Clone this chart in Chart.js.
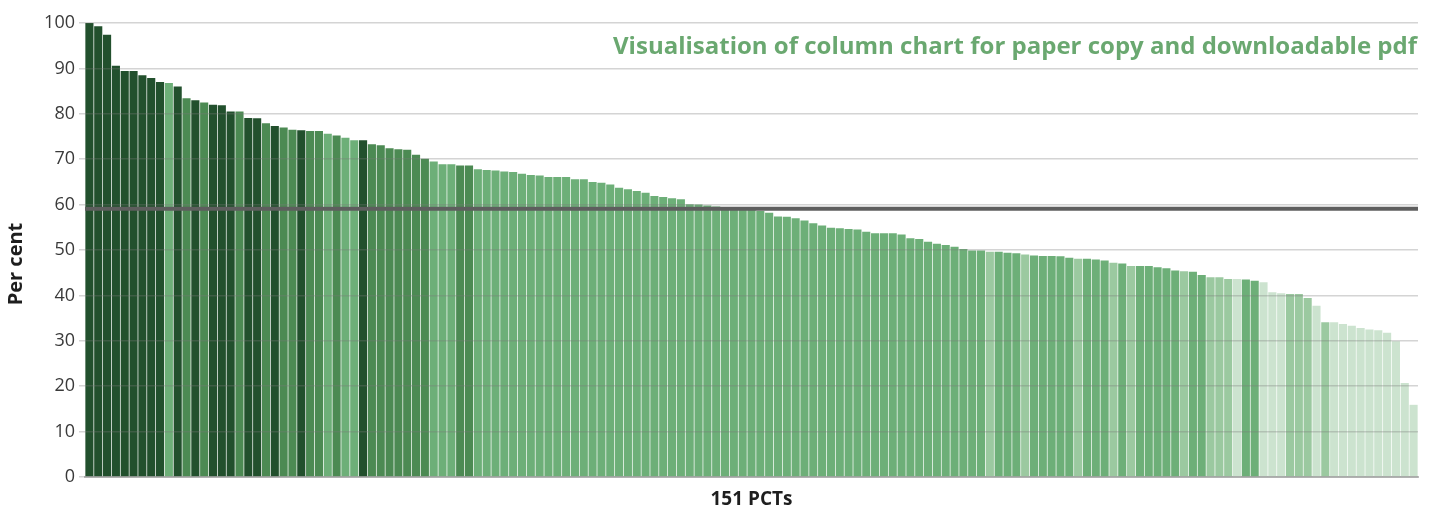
<!DOCTYPE html>
<html>
<head>
<meta charset="utf-8">
<script src="https://cdn.jsdelivr.net/npm/chart.js@4"></script>
<style>
  html, body { margin: 0; padding: 0; background: #ffffff; }
  #wrap { width: 1437px; height: 508px; }
</style>
</head>
<body>
<div id="wrap"><canvas id="c" width="1437" height="508"></canvas></div>
<script>
// ---- data ----
const pctValues = [
  100, 99.3, 97.4, 90.6, 89.4, 89.4, 88.5, 87.9, 87.0, 86.8,
  86.0, 83.4, 83.0, 82.5, 82.0, 81.9, 80.5, 80.5, 79.1, 79.0,
  77.9, 77.3, 77.0, 76.5, 76.4, 76.2, 76.2, 75.6, 75.2, 74.7,
  74.2, 74.2, 73.3, 73.1, 72.4, 72.2, 72.1, 71.0, 70.1, 69.5,
  68.9, 68.9, 68.6, 68.6, 67.8, 67.6, 67.5, 67.3, 67.2, 66.8,
  66.5, 66.4, 66.1, 66.1, 66.1, 65.6, 65.6, 65.0, 64.8, 64.4,
  63.7, 63.4, 63.0, 62.6, 61.9, 61.7, 61.4, 61.2, 60.1, 60.0,
  59.8, 59.6, 59.4, 59.2, 59.0, 58.8, 58.6, 58.2, 57.4, 57.3,
  57.0, 56.5, 55.9, 55.4, 54.9, 54.8, 54.6, 54.5, 54.0, 53.7,
  53.7, 53.7, 53.4, 52.6, 52.4, 51.8, 51.4, 51.1, 50.7, 50.2,
  49.9, 49.9, 49.6, 49.6, 49.4, 49.3, 49.0, 48.8, 48.7, 48.7,
  48.6, 48.3, 48.1, 48.1, 47.9, 47.7, 47.2, 47.0, 46.5, 46.5,
  46.5, 46.2, 46.0, 45.5, 45.3, 45.2, 44.5, 44.0, 44.0, 43.6,
  43.6, 43.5, 43.2, 42.9, 40.7, 40.5, 40.3, 40.3, 39.4, 37.7,
  34.1, 34.1, 33.7, 33.3, 32.8, 32.5, 32.3, 31.8, 29.9, 20.7,
  15.9
];

// colour band of each PCT (1 = darkest ... 5 = lightest)
const colourBands = [
  1, 1, 1, 1, 1, 1, 1, 1, 1, 3,
  1, 2, 1, 2, 1, 1, 1, 2, 1, 1,
  2, 1, 2, 2, 1, 2, 2, 3, 2, 3,
  3, 1, 2, 2, 2, 2, 2, 2, 2, 3,
  3, 3, 2, 2, 3, 3, 3, 3, 3, 3,
  3, 3, 3, 3, 3, 3, 3, 3, 3, 3,
  3, 3, 3, 3, 3, 3, 3, 3, 3, 3,
  3, 3, 3, 3, 3, 3, 3, 3, 3, 3,
  3, 3, 3, 3, 3, 3, 3, 3, 3, 3,
  3, 3, 3, 3, 3, 3, 3, 3, 3, 3,
  3, 3, 4, 3, 3, 3, 4, 3, 3, 3,
  3, 3, 4, 3, 3, 3, 4, 3, 4, 3,
  3, 3, 3, 3, 4, 3, 3, 4, 4, 4,
  5, 3, 3, 5, 5, 5, 4, 4, 4, 5,
  4, 5, 5, 5, 5, 5, 5, 5, 5, 5,
  5
];

const yTickValues = [0, 10, 20, 30, 40, 50, 60, 70, 80, 90, 100];
const averageValue = 59.1;

const chartTitle = 'Visualisation of column chart for paper copy and downloadable pdf';
const yAxisLabel = 'Per cent';
const xAxisLabel = '151 PCTs';
const categories = pctValues.map((v, i) => 'PCT ' + (i + 1));

// ---- styles ----
const bandColours = { 1: '#22502d', 2: '#4c8a53', 3: '#6daf78', 4: '#9bc9a0', 5: '#cce3cf' };
const FONT = '"Open Sans", "Noto Sans", sans-serif';

const overlayPlugin = {
  id: 'overlay',
  afterDraw(chart) {
    const { ctx, chartArea, scales } = chart;
    const yy = scales.y.getPixelForValue(averageValue);
    ctx.save();
    // average line
    ctx.strokeStyle = '#5e5e5e';
    ctx.lineWidth = 4;
    ctx.beginPath();
    ctx.moveTo(chartArea.left, yy);
    ctx.lineTo(chartArea.right, yy);
    ctx.stroke();
    // in-chart title
    ctx.fillStyle = '#6aa870';
    ctx.font = 'bold 24px ' + FONT;
    ctx.textAlign = 'right';
    ctx.textBaseline = 'alphabetic';
    ctx.fillText(chartTitle, chartArea.right - 1, chartArea.top + 31);
    // y axis label
    ctx.translate(16, (chartArea.top + chartArea.bottom) / 2 + 14);
    ctx.rotate(-Math.PI / 2);
    ctx.fillStyle = '#1e1e1e';
    ctx.font = 'bold 20px ' + FONT;
    ctx.textAlign = 'center';
    ctx.textBaseline = 'middle';
    ctx.fillText(yAxisLabel, 0, 0);
    ctx.restore();
  }
};

new Chart(document.getElementById('c'), {
  type: 'bar',
  data: {
    labels: categories,
    datasets: [{
      data: pctValues,
      backgroundColor: colourBands.map(b => bandColours[b]),
      borderWidth: 0,
      categoryPercentage: 1.0,
      barPercentage: 0.92
    }]
  },
  options: {
    responsive: false,
    animation: false,
    events: [],
    layout: { padding: { left: 0, right: 19, top: 23, bottom: 0 } },
    plugins: { legend: { display: false }, tooltip: { enabled: false } },
    scales: {
      x: {
        grid: { display: false },
        border: { display: true, color: '#bdbdbd', width: 2 },
        ticks: { display: false },
        title: {
          display: true, text: xAxisLabel, color: '#1e1e1e',
          font: { family: FONT, size: 19, weight: 'bold' }, padding: { top: 0, bottom: -3 }
        },
        afterFit: s => { s.height = 31; }
      },
      y: {
        min: 0, max: 100,
        afterBuildTicks: s => { s.ticks = yTickValues.map(v => ({ value: v })); },
        grid: { color: 'rgba(120,120,120,0.32)', lineWidth: 1.5, tickLength: 6, z: 1 },
        border: { display: false },
        ticks: { font: { family: FONT, size: 18 }, color: '#3a3a3a', padding: 4 },
        afterFit: s => { s.width = 85; }
      }
    }
  },
  plugins: [overlayPlugin]
});
</script>
</body>
</html>
